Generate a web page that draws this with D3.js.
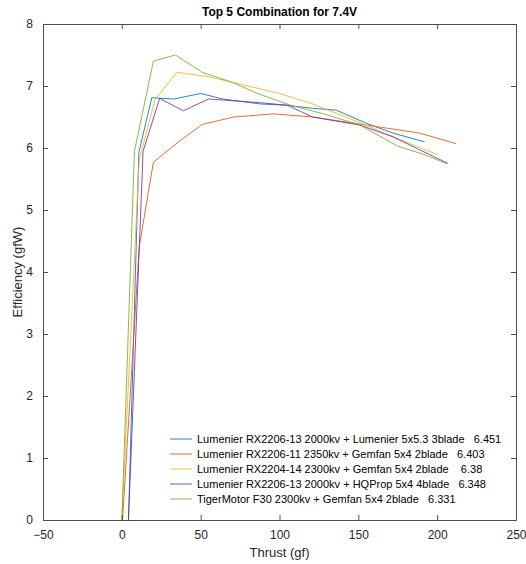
<!DOCTYPE html>
<html lang="en">
<head>
  <meta charset="UTF-8">
  <title>Top 5 Combination for 7.4V</title>
  <script src="https://d3js.org/d3.v7.min.js"></script>
  <style>
    body { margin: 0; background: #fff; }
    svg { font-family: "Liberation Sans", Arial, sans-serif; }
    .legend text { white-space: pre; }
  </style>
</head>
<body>
<div id="chart"></div>
<script>
// data
const seriesNames = [
  "Lumenier RX2206-13 2000kv + Lumenier 5x5.3 3blade   6.451",
  "Lumenier RX2206-11 2350kv + Gemfan 5x4 2blade   6.403",
  "Lumenier RX2204-14 2300kv + Gemfan 5x4 2blade    6.38",
  "Lumenier RX2206-13 2000kv + HQProp 5x4 4blade   6.348",
  "TigerMotor F30 2300kv + Gemfan 5x4 2blade   6.331"
];
const colors = ["#0072BD", "#D95319", "#EDB120", "#7E2F8E", "#77AC30"];

const thrust1 = [4.2, 10.8, 19, 33, 50, 64, 88, 104, 121, 136, 155, 172, 192];
const eff1    = [0, 5.93, 6.81, 6.79, 6.88, 6.79, 6.71, 6.69, 6.64, 6.61, 6.40, 6.24, 6.10];
const thrust2 = [0.5, 11, 20, 36, 51, 71, 96, 121, 155, 189, 212];
const eff2    = [0, 4.4, 5.77, 6.1, 6.38, 6.5, 6.55, 6.5, 6.37, 6.24, 6.07];
const thrust3 = [0, 11, 21, 35, 55, 75, 100, 120, 150, 175, 200.5];
const eff3    = [0, 5.8, 6.78, 7.22, 7.15, 7.03, 6.88, 6.72, 6.42, 6.15, 5.89];
const thrust4 = [4.2, 13.5, 24, 39, 55, 88, 105, 121, 151, 172, 189, 207];
const eff4    = [0, 5.95, 6.8, 6.6, 6.79, 6.73, 6.69, 6.5, 6.37, 6.18, 5.97, 5.75];
const thrust5 = [0, 8, 20, 34, 51, 70, 86, 107, 128, 151, 175, 191, 206];
const eff5    = [0, 5.95, 7.4, 7.5, 7.22, 7.06, 6.88, 6.69, 6.55, 6.37, 6.03, 5.9, 5.75];

const xTicks = [-50, 0, 50, 100, 150, 200, 250];
const yTicks = [0, 1, 2, 3, 4, 5, 6, 7, 8];

const allThrust = [thrust1, thrust2, thrust3, thrust4, thrust5];
const allEff = [eff1, eff2, eff3, eff4, eff5];

const W = 526, H = 564;
const margin = {left: 43, right: 10, top: 24, bottom: 44};

const svg = d3.select("#chart").append("svg")
  .attr("width", W).attr("height", H);

const x = d3.scaleLinear().domain([-50, 250]).range([margin.left, W - margin.right]);
const y = d3.scaleLinear().domain([0, 8]).range([H - margin.bottom, margin.top]);

const axisColor = "#4d4d4d";

// lines
const line = d3.line().x(d => x(d[0])).y(d => y(d[1]));
allThrust.forEach((t, i) => {
  const pts = t.map((v, j) => [v, allEff[i][j]]);
  svg.append("path")
    .attr("d", line(pts))
    .attr("fill", "none")
    .attr("stroke", colors[i])
    .attr("stroke-width", 1)
    .attr("stroke-opacity", 0.85);
});

// axes with inward ticks, box on
function styleAxis(g) {
  g.selectAll("path").attr("stroke", axisColor);
  g.selectAll("line").attr("stroke", axisColor);
  g.selectAll("text").attr("fill", "#262626").attr("font-size", 12);
}
svg.append("g")
  .attr("transform", `translate(0,${y(0)})`)
  .call(d3.axisBottom(x).tickValues(xTicks).tickSizeInner(-5).tickSizeOuter(0).tickPadding(10))
  .call(styleAxis);
svg.append("g")
  .attr("transform", `translate(0,${y(8)})`)
  .call(d3.axisTop(x).tickValues(xTicks).tickSizeInner(-5).tickSizeOuter(0).tickFormat(""))
  .call(styleAxis);
svg.append("g")
  .attr("transform", `translate(${x(-50)},0)`)
  .call(d3.axisLeft(y).tickValues(yTicks).tickSizeInner(-5).tickSizeOuter(0).tickPadding(10))
  .call(styleAxis);
svg.append("g")
  .attr("transform", `translate(${x(250)},0)`)
  .call(d3.axisRight(y).tickValues(yTicks).tickSizeInner(-5).tickSizeOuter(0).tickFormat(""))
  .call(styleAxis);

// title and axis labels
svg.append("text")
  .attr("x", (x(-50) + x(250)) / 2).attr("y", 16)
  .attr("text-anchor", "middle")
  .attr("font-size", 12).attr("font-weight", "bold").attr("fill", "#000")
  .text("Top 5 Combination for 7.4V");
svg.append("text")
  .attr("x", (x(-50) + x(250)) / 2).attr("y", 557)
  .attr("text-anchor", "middle")
  .attr("font-size", 13).attr("fill", "#262626")
  .text("Thrust (gf)");
svg.append("text")
  .attr("transform", `translate(22,${(y(0) + y(8)) / 2}) rotate(-90)`)
  .attr("text-anchor", "middle")
  .attr("font-size", 13).attr("fill", "#262626")
  .text("Efficiency (gfW)");

// legend
const legend = svg.append("g").attr("class", "legend");
seriesNames.forEach((name, i) => {
  const ly = 439 + i * 15;
  legend.append("line")
    .attr("x1", 170).attr("x2", 192)
    .attr("y1", ly).attr("y2", ly)
    .attr("stroke", colors[i]).attr("stroke-width", 1).attr("stroke-opacity", 0.85);
  legend.append("text")
    .attr("x", 197).attr("y", ly + 4)
    .attr("font-size", 11).attr("fill", "#000")
    .text(name);
});
</script>
</body>
</html>
